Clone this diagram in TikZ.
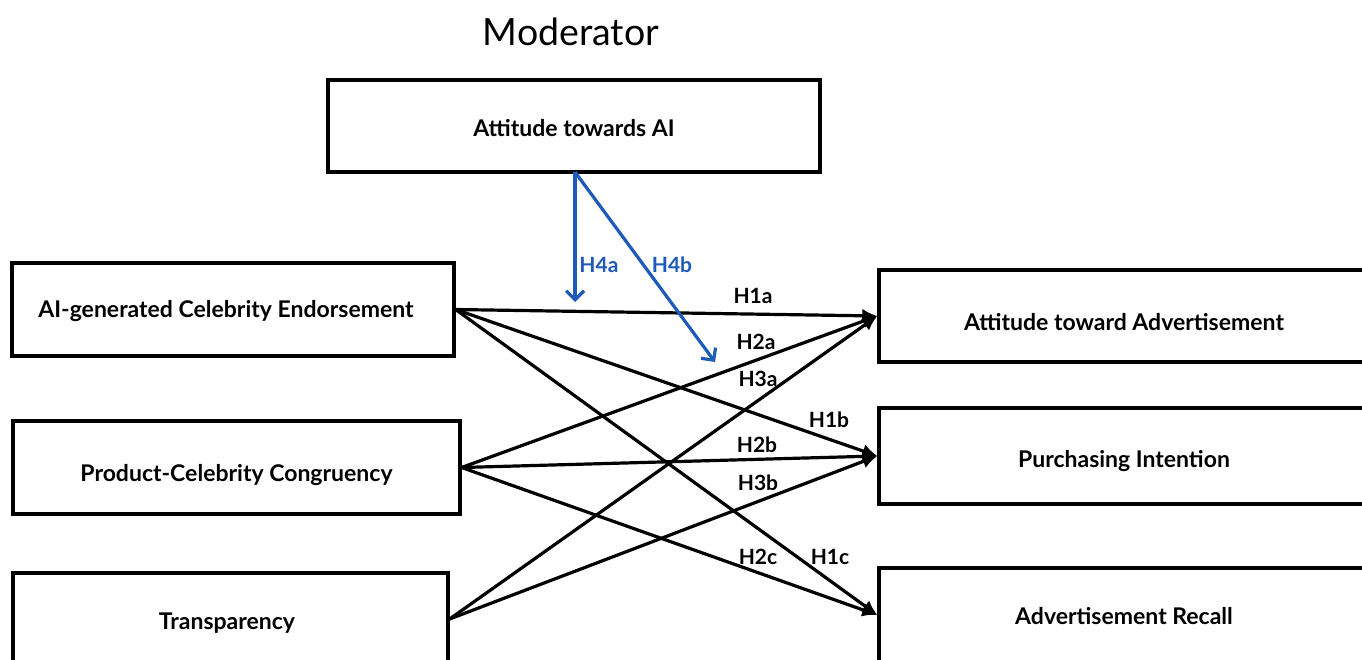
\documentclass[tikz,border=0pt]{standalone}
\usepackage{fontspec}
\setmainfont{Lato}
\usetikzlibrary{arrows.meta}
\definecolor{modblue}{RGB}{30,90,185}
\begin{document}
\begin{tikzpicture}[x=1pt,y=-1pt,
  box/.style={draw=black,line width=3.3pt,fill=white,inner sep=0pt,text height=18pt,text depth=1.4pt,font=\fontsize{23}{27}\selectfont\bfseries},
  conn/.style={line width=3.2pt,-{Latex[length=15pt,width=14pt]}},
  modconn/.style={draw=modblue,line width=3.2pt,-{Straight Barb[length=9pt,width=18pt,line width=3.2pt]}},
  hlab/.style={font=\fontsize{21}{23}\selectfont\bfseries,inner sep=0pt},
  mlab/.style={hlab,text=modblue}]
\useasboundingbox (0,0) rectangle (1362,659);
\clip (0,0) rectangle (1362,659);
\fill[white] (0,0) rectangle (1362,659);

\node[font=\fontsize{37.5}{40}\selectfont,inner sep=0pt] (title) at (571,32) {Moderator};

\node[box,minimum width=492pt,minimum height=92pt] (mod) at (574,126) {\raisebox{-2pt}{Attitude towards AI}};

\node[box,minimum width=442pt,minimum height=93pt] (ace) at (233,309.5) {\hspace*{-14pt}AI-generated Celebrity Endorsement};
\node[box,minimum width=447pt,minimum height=93pt] (pcc) at (236.5,467.5) {\raisebox{-5.5pt}{Product-Celebrity Congruency}};
\node[box,minimum width=435pt,minimum height=92pt] (tra) at (230.5,619) {\hspace*{-7pt}\raisebox{-2pt}{Transparency}};

\node[box,minimum width=490pt,minimum height=92pt] (ata) at (1124,316) {\raisebox{-6pt}{Attitude toward Advertisement}};
\node[box,minimum width=490pt,minimum height=96pt] (pin) at (1124,456) {\raisebox{-3pt}{Purchasing Intention}};
\node[box,minimum width=490pt,minimum height=94pt] (are) at (1124,615) {\raisebox{-1pt}{Advertisement Recall}};

\draw[conn] (ace.east) -- (ata.west);
\draw[conn] (ace.east) -- (pin.west);
\draw[conn] (ace.east) -- (are.west);
\draw[conn] (pcc.east) -- (ata.west);
\draw[conn] (pcc.east) -- (pin.west);
\draw[conn] (pcc.east) -- (are.west);
\draw[conn] (tra.east) -- (ata.west);
\draw[conn] (tra.east) -- (pin.west);

\coordinate (h4aend) at (575,302);
\coordinate (h4bend) at (715,362);
\coordinate (modout) at (575,172);
\draw[modconn] (modout) -- (h4aend);
\draw[modconn] (modout) -- (h4bend);

\node[mlab] (l4a) at (599,265) {H4a};
\node[mlab] (l4b) at (672,265) {H4b};
\node[hlab] (l1a) at (753,296) {H1a};
\node[hlab] (l2a) at (756,342) {H2a};
\node[hlab] (l3a) at (758,379) {H3a};
\node[hlab] (l1b) at (829,420) {H1b};
\node[hlab] (l2b) at (757,445) {H2b};
\node[hlab] (l3b) at (758,483) {H3b};
\node[hlab] (l2c) at (758,557) {H2c};
\node[hlab] (l1c) at (830,557) {H1c};
\end{tikzpicture}
\end{document}
